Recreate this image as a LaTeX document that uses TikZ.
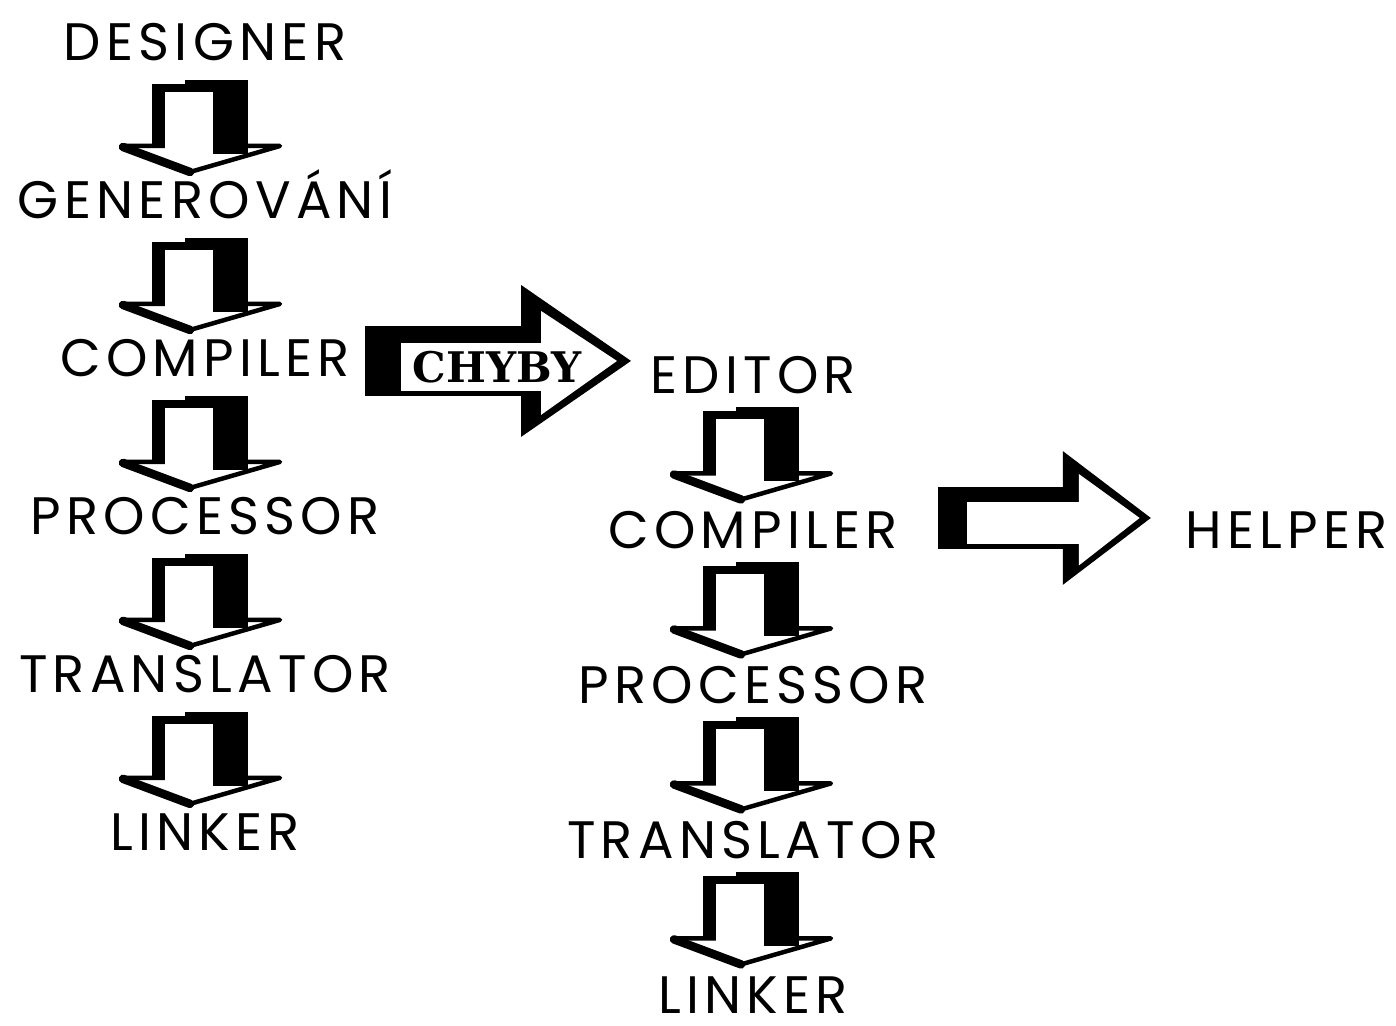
\documentclass[tikz,border=0pt]{standalone}
\usepackage{fontspec}
\setmainfont{Poppins}[LetterSpace=10]
\newfontfamily\chybyfont{DejaVu Serif}
\usetikzlibrary{positioning,calc}

\begin{document}
\begin{tikzpicture}[x=0.02cm, y=-0.02cm, node distance=3.16cm,
  every node/.style={font=\fontsize{30}{30}\selectfont, text height=21pt, text depth=0pt, inner sep=2pt},
  downblock/.pic={
    % head of the arrow
    \filldraw[fill=white, line width=0.09cm, line join=round] (-67,20) -- (90,20) -- (0,46) -- cycle;
    \draw[line width=0.17cm, line cap=round] (-67,21) -- (0,46);
    % shaft with its shadow
    \fill (-38,-42) rectangle (-5,22);
    \fill (-5,-46) rectangle (58,22);
    \fill (23,20) rectangle (58,28);
    \fill[white] (-25,-34) rectangle (23,25);
  },
  rightblock/.pic={
    \fill (0,-35) rectangle (175,35);
    \fill (156,-76) -- (266,0) -- (156,76) -- cycle;
    \fill[white] (176,-50) -- (252,0) -- (176,54) -- cycle;
    \fill[white] (36,-18) rectangle (190,30);
  }]
\useasboundingbox (0,0) rectangle (1396,1026);

% first chain
\node (designer) at (205,42) {DESIGNER};
\node (gen) [below of=designer] {GENEROVÁNÍ};
\node (compA) [below of=gen] {COMPILER};
\node (procA) [below of=compA] {PROCESSOR};
\node (transA) [below of=procA] {TRANSLATOR};
\node (linkA) [below of=transA] {LINKER};
\pic at ($(designer)!0.5!(gen)+(-15,5)$) {downblock};
\pic at ($(gen)!0.5!(compA)+(-15,5)$) {downblock};
\pic at ($(compA)!0.5!(procA)+(-15,5)$) {downblock};
\pic at ($(procA)!0.5!(transA)+(-15,5)$) {downblock};
\pic at ($(transA)!0.5!(linkA)+(-15,5)$) {downblock};

% second chain
\begin{scope}[node distance=3.1cm]
\node (editor) at (753,375) {EDITOR};
\node (compB) [below of=editor] {COMPILER};
\node (procB) [below of=compB] {PROCESSOR};
\node (transB) [below of=procB] {TRANSLATOR};
\node (linkB) [below of=transB] {LINKER};
\end{scope}
\pic at ($(editor)!0.5!(compB)+(-12,1)$) {downblock};
\pic at ($(compB)!0.5!(procB)+(-12,1)$) {downblock};
\pic at ($(procB)!0.5!(transB)+(-12,1)$) {downblock};
\pic at ($(transB)!0.5!(linkB)+(-12,1)$) {downblock};

% errors go back to the editor
\pic at ($(compA)+(160,3)$) {rightblock};
\node (chyby) at ($(compA)+(292,10)$) [font=\chybyfont\bfseries\fontsize{24}{24}\selectfont, text height=17pt] {CHYBY};

\node (helper) [right of=compB, node distance=10.68cm] {HELPER};
\pic[xscale=0.8, yscale=0.88] at ($(compB)+(185,-12)$) {rightblock};
\end{tikzpicture}
\end{document}
